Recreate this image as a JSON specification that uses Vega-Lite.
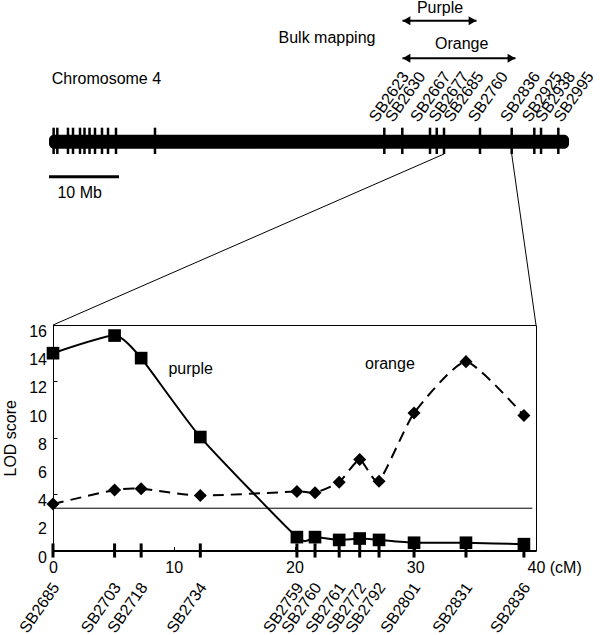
{
  "$schema": "https://vega.github.io/schema/vega-lite/v6.json",
  "width": 483,
  "height": 225.5,
  "autosize": {"type": "none"},
  "padding": {"left": 53, "top": 325, "right": 64, "bottom": 84.5},
  "background": "white",
  "config": {
    "font": "Liberation Sans",
    "view": {"stroke": "black", "strokeWidth": 1},
    "text": {"fontSize": 16, "color": "black", "font": "Liberation Sans"},
    "axis": {
      "labelFont": "Liberation Sans", "titleFont": "Liberation Sans",
      "labelFontSize": 16, "titleFontSize": 16,
      "labelColor": "black", "titleColor": "black", "titleFontWeight": "normal",
      "domainColor": "black", "tickColor": "black", "grid": false, "labelOverlap": false
    }
  },
  "datasets": {
    "lod": [
      {"marker": "SB2685", "cM": 0, "purple": 14.0, "orange": 3.3},
      {"marker": "SB2703", "cM": 5.1, "purple": 15.25, "orange": 4.3},
      {"marker": "SB2718", "cM": 7.3, "purple": 13.65, "orange": 4.38},
      {"marker": "SB2734", "cM": 12.2, "purple": 8.05, "orange": 3.9},
      {"marker": "SB2759", "cM": 20.2, "purple": 0.95, "orange": 4.18},
      {"marker": "SB2760", "cM": 21.7, "purple": 0.95, "orange": 4.1},
      {"marker": "SB2761", "cM": 23.7, "purple": 0.75, "orange": 4.85},
      {"marker": "SB2772", "cM": 25.4, "purple": 0.85, "orange": 6.45},
      {"marker": "SB2792", "cM": 27.0, "purple": 0.75, "orange": 4.92},
      {"marker": "SB2801", "cM": 29.9, "purple": 0.55, "orange": 9.75},
      {"marker": "SB2831", "cM": 34.2, "purple": 0.55, "orange": 13.4},
      {"marker": "SB2836", "cM": 39.0, "purple": 0.45, "orange": 9.58}
    ],
    "lodTicks": [
      {"lod": 0}, {"lod": 2}, {"lod": 4}, {"lod": 6}, {"lod": 8},
      {"lod": 10}, {"lod": 12}, {"lod": 14}, {"lod": 16}
    ],
    "chromosome": [
      {"marker": "", "mb": 0.66}, {"marker": "", "mb": 1.19}, {"marker": "", "mb": 2.71},
      {"marker": "", "mb": 3.43}, {"marker": "", "mb": 4.43}, {"marker": "", "mb": 5.07},
      {"marker": "", "mb": 5.79}, {"marker": "", "mb": 6.57}, {"marker": "", "mb": 7.57},
      {"marker": "", "mb": 8.43}, {"marker": "", "mb": 9.57}, {"marker": "", "mb": 15.14},
      {"marker": "SB2623", "mb": 47.9, "labelMb": 46.86},
      {"marker": "SB2630", "mb": 50.47, "labelMb": 49.19},
      {"marker": "SB2667", "mb": 54.43, "labelMb": 52.76},
      {"marker": "SB2677", "mb": 55.39, "labelMb": 55.39},
      {"marker": "SB2685", "mb": 56.43, "labelMb": 57.53},
      {"marker": "SB2760", "mb": 61.57, "labelMb": 61.0},
      {"marker": "SB2836", "mb": 66.1, "labelMb": 65.61},
      {"marker": "SB2925", "mb": 69.33, "labelMb": 68.71},
      {"marker": "SB2938", "mb": 70.29, "labelMb": 70.61},
      {"marker": "SB2995", "mb": 72.76, "labelMb": 73.24}
    ]
  },
  "layer": [
    {
      "data": {"name": "lod"},
      "layer": [
        {
          "data": {"values": [{"lod": 3, "start": 0, "end": 39.7}]},
          "mark": {"type": "rule", "color": "black", "strokeWidth": 1},
          "encoding": {
            "x": {
              "field": "start", "type": "quantitative", "scale": {"domain": [0, 40], "nice": false, "zero": false}, "title": null,
              "axis": {
                "values": [0, 10, 20, 30, 40], "domainWidth": 2, "tickSize": -4, "labelPadding": 13,
                "labelFlush": false, "labelOverlap": false,
                "labelExpr": "datum.value == 40 ? '40 (cM)' : datum.label",
                "labelAlign": {"condition": {"test": "datum.value == 40", "value": "left"}, "value": "center"},
                "labelOffset": {"condition": {"test": "datum.value == 40", "value": -9}, "value": 0}
              }
            },
            "x2": {"field": "end"},
            "y": {
              "field": "lod", "type": "quantitative", "scale": {"domain": [0, 16], "nice": false}, "title": "LOD score",
              "axis": {
                "values": [0, 2, 4, 6, 8, 10, 12, 14, 16], "tickSize": -4, "labels": false, "titlePadding": 34
              }
            }
          }
        },
        {
          "data": {"name": "lodTicks"},
          "mark": {"type": "text", "align": "right", "baseline": "middle", "xOffset": -6, "yOffset": 7, "fontSize": 16},
          "encoding": {
            "x": {"datum": 0, "type": "quantitative", "scale": {"domain": [0, 40], "nice": false, "zero": false}, "title": null},
            "y": {"field": "lod", "type": "quantitative", "scale": {"domain": [0, 16], "nice": false}, "title": "LOD score"},
            "text": {"field": "lod", "type": "quantitative"}
          }
        },
        {
          "mark": {"type": "rule", "color": "black", "strokeWidth": 3},
          "encoding": {
            "x": {"field": "cM", "type": "quantitative", "scale": {"domain": [0, 40], "nice": false, "zero": false}, "title": null},
            "y": {"datum": -0.5, "type": "quantitative", "scale": {"domain": [0, 16], "nice": false}, "title": "LOD score"},
            "y2": {"datum": 0.5}
          }
        },
        {
          "mark": {"type": "line", "color": "black", "strokeWidth": 2, "interpolate": "cardinal", "tension": 0.45},
          "encoding": {
            "x": {"field": "cM", "type": "quantitative", "scale": {"domain": [0, 40], "nice": false, "zero": false}, "title": null},
            "y": {"field": "purple", "type": "quantitative", "scale": {"domain": [0, 16], "nice": false}, "title": "LOD score"}
          }
        },
        {
          "mark": {"type": "point", "shape": "square", "filled": true, "color": "black", "size": 160, "opacity": 1},
          "encoding": {
            "x": {"field": "cM", "type": "quantitative", "scale": {"domain": [0, 40], "nice": false, "zero": false}, "title": null},
            "y": {"field": "purple", "type": "quantitative", "scale": {"domain": [0, 16], "nice": false}, "title": "LOD score"}
          }
        },
        {
          "mark": {"type": "line", "color": "black", "strokeWidth": 2, "interpolate": "cardinal", "tension": 0.45, "strokeDash": [11, 7]},
          "encoding": {
            "x": {"field": "cM", "type": "quantitative", "scale": {"domain": [0, 40], "nice": false, "zero": false}, "title": null},
            "y": {"field": "orange", "type": "quantitative", "scale": {"domain": [0, 16], "nice": false}, "title": "LOD score"}
          }
        },
        {
          "mark": {"type": "point", "shape": "diamond", "filled": true, "color": "black", "size": 170, "opacity": 1},
          "encoding": {
            "x": {"field": "cM", "type": "quantitative", "scale": {"domain": [0, 40], "nice": false, "zero": false}, "title": null},
            "y": {"field": "orange", "type": "quantitative", "scale": {"domain": [0, 16], "nice": false}, "title": "LOD score"}
          }
        },
        {
          "mark": {"type": "text", "angle": 305, "align": "right", "baseline": "middle", "xOffset": 3, "yOffset": 34, "fontSize": 16},
          "encoding": {
            "x": {"field": "cM", "type": "quantitative", "scale": {"domain": [0, 40], "nice": false, "zero": false}, "title": null},
            "y": {"datum": 0, "type": "quantitative", "scale": {"domain": [0, 16], "nice": false}, "title": "LOD score"},
            "text": {"field": "marker"}
          }
        },
        {
          "data": {"values": [{"t": "purple", "cM": 11.4, "lod": 12.9}, {"t": "orange", "cM": 27.9, "lod": 13.2}]},
          "mark": {"type": "text", "align": "center", "baseline": "middle", "fontSize": 16},
          "encoding": {
            "x": {"field": "cM", "type": "quantitative", "scale": {"domain": [0, 40], "nice": false, "zero": false}, "title": null},
            "y": {"field": "lod", "type": "quantitative", "scale": {"domain": [0, 16], "nice": false}, "title": "LOD score"},
            "text": {"field": "t"}
          }
        }
      ]
    },
    {
      "data": {"name": "chromosome"},
      "layer": [
        {
          "data": {"values": [{"start": 0, "end": 74.29, "top": 0.7, "bottom": -0.7}]},
          "mark": {"type": "rect", "color": "black", "cornerRadius": 5},
          "encoding": {
            "x": {"field": "start", "type": "quantitative", "scale": {"domain": [0.571, 69.571], "nice": false, "zero": false}, "axis": null},
            "x2": {"field": "end"},
            "y": {"field": "top", "type": "quantitative", "scale": {"domain": [-40.88, -18.33], "nice": false, "zero": false}, "axis": null},
            "y2": {"field": "bottom"}
          }
        },
        {
          "mark": {"type": "rule", "color": "black", "strokeWidth": 2.5},
          "encoding": {
            "x": {"field": "mb", "type": "quantitative", "scale": {"domain": [0.571, 69.571], "nice": false, "zero": false}, "axis": null},
            "y": {"datum": 1.4, "type": "quantitative", "scale": {"domain": [-40.88, -18.33], "nice": false, "zero": false}, "axis": null},
            "y2": {"datum": -1.23}
          }
        },
        {
          "transform": [{"filter": "datum.marker != ''"}],
          "mark": {"type": "text", "angle": 305, "align": "left", "baseline": "alphabetic", "fontSize": 16},
          "encoding": {
            "x": {"field": "labelMb", "type": "quantitative", "scale": {"domain": [0.571, 69.571], "nice": false, "zero": false}, "axis": null},
            "y": {"datum": 1.87, "type": "quantitative", "scale": {"domain": [-40.88, -18.33], "nice": false, "zero": false}, "axis": null},
            "text": {"field": "marker"}
          }
        },
        {
          "data": {"values": [{"x1": 56.43, "y1": -1.23, "x2": 0.571, "y2": -18.33}, {"x1": 66.1, "y1": -1.23, "x2": 69.571, "y2": -18.33}]},
          "mark": {"type": "rule", "color": "black", "strokeWidth": 1},
          "encoding": {
            "x": {"field": "x1", "type": "quantitative", "scale": {"domain": [0.571, 69.571], "nice": false, "zero": false}, "axis": null},
            "y": {"field": "y1", "type": "quantitative", "scale": {"domain": [-40.88, -18.33], "nice": false, "zero": false}, "axis": null},
            "x2": {"field": "x2"},
            "y2": {"field": "y2"}
          }
        },
        {
          "data": {"values": [{"start": 0, "end": 10, "v": -3.5}]},
          "mark": {"type": "rule", "color": "black", "strokeWidth": 3},
          "encoding": {
            "x": {"field": "start", "type": "quantitative", "scale": {"domain": [0.571, 69.571], "nice": false, "zero": false}, "axis": null},
            "x2": {"field": "end"},
            "y": {"field": "v", "type": "quantitative", "scale": {"domain": [-40.88, -18.33], "nice": false, "zero": false}, "axis": null}
          }
        },
        {
          "data": {"values": [{"bulk": "Purple", "start": 50.5, "end": 61.07, "v": 12.1}, {"bulk": "Orange", "start": 50.5, "end": 66.64, "v": 8.34}]},
          "layer": [
            {
              "mark": {"type": "rule", "color": "black", "strokeWidth": 2},
              "encoding": {
                "x": {"field": "start", "type": "quantitative", "scale": {"domain": [0.571, 69.571], "nice": false, "zero": false}, "axis": null},
                "x2": {"field": "end"},
                "y": {"field": "v", "type": "quantitative", "scale": {"domain": [-40.88, -18.33], "nice": false, "zero": false}, "axis": null}
              }
            },
            {
              "mark": {"type": "point", "shape": "triangle-left", "filled": true, "color": "black", "size": 80, "opacity": 1, "xOffset": 4},
              "encoding": {
                "x": {"field": "start", "type": "quantitative", "scale": {"domain": [0.571, 69.571], "nice": false, "zero": false}, "axis": null},
                "y": {"field": "v", "type": "quantitative", "scale": {"domain": [-40.88, -18.33], "nice": false, "zero": false}, "axis": null}
              }
            },
            {
              "mark": {"type": "point", "shape": "triangle-right", "filled": true, "color": "black", "size": 80, "opacity": 1, "xOffset": -4},
              "encoding": {
                "x": {"field": "end", "type": "quantitative", "scale": {"domain": [0.571, 69.571], "nice": false, "zero": false}, "axis": null},
                "y": {"field": "v", "type": "quantitative", "scale": {"domain": [-40.88, -18.33], "nice": false, "zero": false}, "axis": null}
              }
            }
          ]
        },
        {
          "data": {"values": [{"t": "Purple", "mb": 55.86, "v": 13.35}, {"t": "Orange", "mb": 58.95, "v": 9.77}, {"t": "Bulk mapping", "mb": 39.71, "v": 10.34}]},
          "mark": {"type": "text", "align": "center", "baseline": "middle", "fontSize": 16},
          "encoding": {
            "x": {"field": "mb", "type": "quantitative", "scale": {"domain": [0.571, 69.571], "nice": false, "zero": false}, "axis": null},
            "y": {"field": "v", "type": "quantitative", "scale": {"domain": [-40.88, -18.33], "nice": false, "zero": false}, "axis": null},
            "text": {"field": "t"}
          }
        },
        {
          "data": {"values": [{"t": "Chromosome 4", "mb": 0.39, "v": 6.24}, {"t": "10 Mb", "mb": 1.2, "v": -5.16}]},
          "mark": {"type": "text", "align": "left", "baseline": "middle", "fontSize": 16},
          "encoding": {
            "x": {"field": "mb", "type": "quantitative", "scale": {"domain": [0.571, 69.571], "nice": false, "zero": false}, "axis": null},
            "y": {"field": "v", "type": "quantitative", "scale": {"domain": [-40.88, -18.33], "nice": false, "zero": false}, "axis": null},
            "text": {"field": "t"}
          }
        }
      ]
    }
  ],
  "resolve": {"scale": {"x": "independent", "y": "independent"}}
}
